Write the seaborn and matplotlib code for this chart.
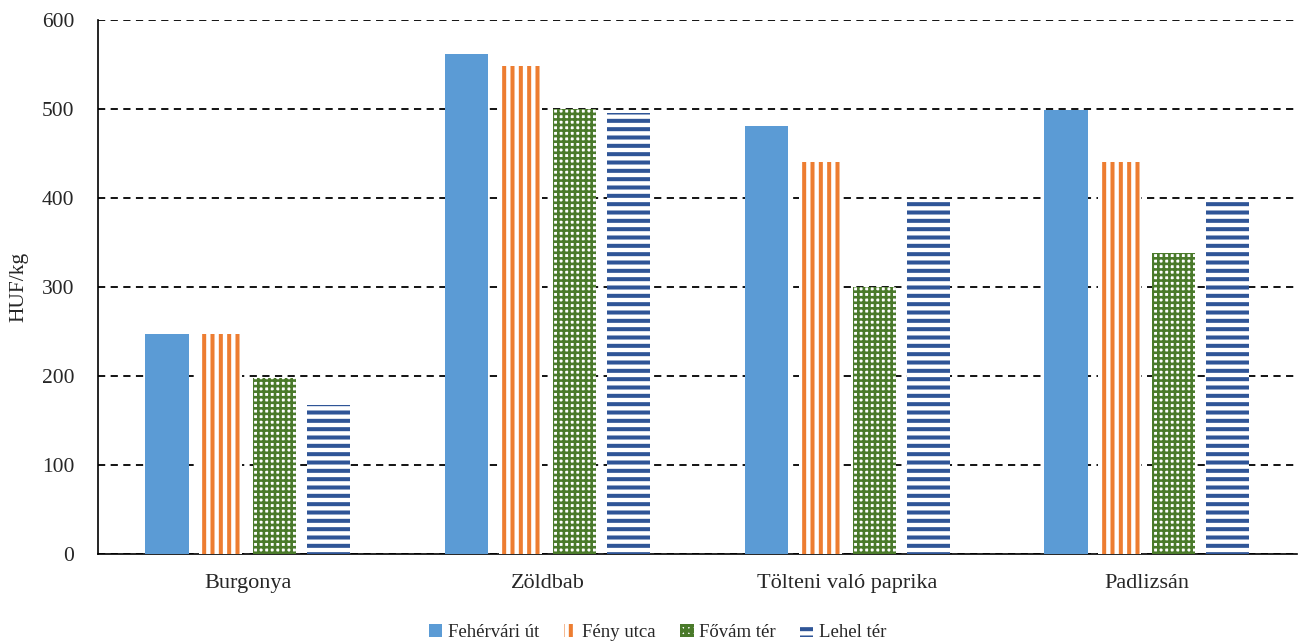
import numpy as np
import pandas as pd
import matplotlib
matplotlib.use("Agg")
import matplotlib.pyplot as plt
import seaborn as sns

# data
categories = ["Burgonya", "Zöldbab", "Tölteni való paprika", "Padlizsán"]
markets = ["Fehérvári út", "Fény utca", "Fővám tér", "Lehel tér"]
fehervari = [247, 562, 481, 499]
feny = [247, 548, 440, 440]
fovam = [198, 500, 300, 338]
lehel = [168, 495, 398, 398]

colors = ["#5B9BD5", "#ED7D31", "#4A7A2A", "#2F5597"]
hatches = [None, "||", "+++", "--"]

df = pd.DataFrame({
    "kategoria": np.repeat(categories, len(markets)),
    "piac": markets * len(categories),
    "ar": [v for row in zip(fehervari, feny, fovam, lehel) for v in row],
})

sns.set_style("white")
plt.rcParams["font.family"] = ["Liberation Serif", "DejaVu Serif"]
plt.rcParams["hatch.linewidth"] = 2.9

fig, ax = plt.subplots(figsize=(12.98, 6.43), dpi=100)
fig.subplots_adjust(left=0.0755, right=0.999, top=0.969, bottom=0.138)

sns.barplot(data=df, x="kategoria", y="ar", hue="piac", hue_order=markets,
            palette=colors, saturation=1, width=0.72, gap=0.2, ax=ax, zorder=3)

# patterns for the striped / checkered series
for cont, col, h in zip(ax.containers, colors, hatches):
    for bar in cont:
        bar.set_linewidth(0)
        if h is not None:
            bar.set_facecolor("white")
            bar.set_edgecolor(col)
            bar.set_hatch(h)
            if h == "+++" and hasattr(bar, "set_hatch_linewidth"):
                bar.set_hatch_linewidth(1.9)

ax.set_ylim(0, 600)
ax.set_xlim(-0.5, 3.5)
ax.set_yticks(range(0, 601, 100))
ax.yaxis.grid(True, linestyle=(0, (4, 3)), color="black", linewidth=1.3, zorder=0)
ax.set_axisbelow(True)

ax.set_xlabel("")
ax.set_ylabel("HUF/kg", fontsize=15.5, labelpad=10)
ax.tick_params(axis="y", labelsize=15.5, length=7, width=1, direction="out",
               color="black", pad=10)
ax.tick_params(axis="x", which="major", length=0, labelsize=16, pad=14)
ax.set_xticks([-0.5, 0.5, 1.5, 2.5, 3.5], minor=True)
ax.tick_params(axis="x", which="minor", length=7, width=1, direction="out", color="black")

sns.despine(ax=ax, top=True, right=True)
for s in ["left", "bottom"]:
    ax.spines[s].set_color("black")
    ax.spines[s].set_linewidth(1.2)

# legend handles taken from the bars so they keep the patterns
handles = [cont[0] for cont in ax.containers]
ax.legend(handles, markets, loc="center", bbox_to_anchor=(0.467, -0.146),
          ncol=4, frameon=False, fontsize=13.5, handlelength=0.7, handleheight=0.7,
          handletextpad=0.3, columnspacing=1.3)

fig.savefig("out.png", dpi=100)
